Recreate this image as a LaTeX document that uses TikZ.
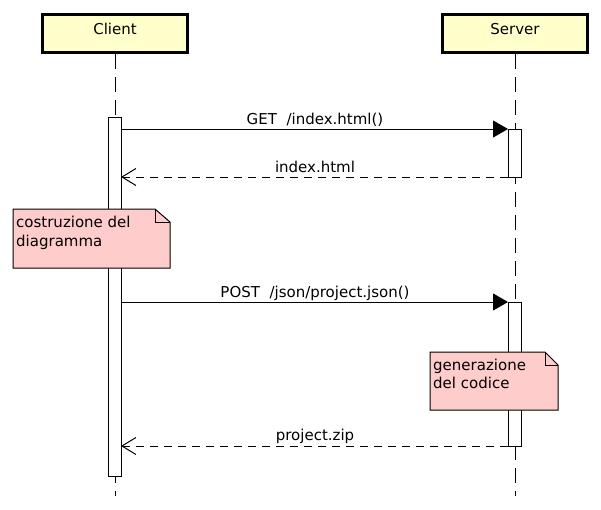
\documentclass[tikz,border=0pt]{standalone}
\usepackage{fontspec}
\setmainfont{DejaVu Sans}
\usetikzlibrary{arrows.meta,shapes.misc}
\definecolor{boxyellow}{HTML}{FFFFCC}
\definecolor{notepink}{HTML}{FFCCCC}
\tikzset{
  actor/.style={draw=black,line width=3pt,fill=boxyellow,minimum width=145pt,minimum height=38pt,inner sep=0pt,font=\fontsize{15}{18}\selectfont,text height=11pt,text depth=10pt},
  lifeline/.style={line width=1pt,dash pattern=on 15pt off 8pt},
  activation/.style={draw=black,line width=1pt,fill=white,inner sep=0pt},
  call/.style={line width=1pt,-{Triangle[length=15pt,width=17pt]}},
  reply/.style={line width=1pt,dash pattern=on 8pt off 6pt,-{Straight Barb[length=14pt,width=17pt,line width=1pt]}},
  msglabel/.style={font=\fontsize{15}{18}\selectfont,inner sep=0pt,anchor=base},
  notetext/.style={font=\fontsize{15}{19}\selectfont,inner sep=0pt,anchor=base west},
  notebox/.style={draw=black,line width=1pt,fill=notepink}
}
\begin{document}
\begin{tikzpicture}[x=1pt,y=-1pt]
\useasboundingbox (0,0) rectangle (601,509);
% actors
\node[actor] (client) at (115,33.5) {Client};
\node[actor] (server) at (515,33.5) {Server};
% lifelines
\coordinate (cend) at (115,496);
\coordinate (send) at (515,496);
\draw[lifeline] (client.south) -- (cend);
\draw[lifeline] (server.south) -- (send);
% activations
\node[activation,minimum width=12.5pt,minimum height=359pt] (cact) at (114.75,296.5) {};
\node[activation,minimum width=13pt,minimum height=48pt] (sact1) at (514.5,153) {};
\node[activation,minimum width=13pt,minimum height=144pt] (sact2) at (514.5,374) {};
% messages
\coordinate (m1s) at (121,129);
\coordinate (m1e) at (508,129);
\draw[call] (m1s) -- (m1e);
\node[msglabel] (l1) at (315,124) {GET\ \ /index.html()};
\coordinate (m2s) at (508,177);
\coordinate (m2e) at (121,177);
\draw[reply] (m2s) -- (m2e);
\node[msglabel] (l2) at (315,172) {index.html};
\coordinate (m3s) at (121,302);
\coordinate (m3e) at (508,302);
\draw[call] (m3s) -- (m3e);
\node[msglabel] (l3) at (315,297) {POST\ \ /json/project.json()};
\coordinate (m4s) at (508,446);
\coordinate (m4e) at (121,446);
\draw[reply] (m4s) -- (m4e);
\node[msglabel] (l4) at (315,440.5) {project.zip};
% note 1
\draw[notebox] (13,209) -- (155,209) -- (170,222) -- (170,268) -- (13,268) -- cycle;
\draw[line width=1pt] (155,209) -- (155,222) -- (170,222);
\node[notetext] (n1a) at (16,227) {costruzione del};
\node[notetext] (n1b) at (16,246) {diagramma};
% note 2
\draw[notebox] (430,352) -- (545,352) -- (558,365) -- (558,410) -- (430,410) -- cycle;
\draw[line width=1pt] (545,352) -- (545,365) -- (558,365);
\node[notetext] (n2a) at (433,370) {generazione};
\node[notetext] (n2b) at (433,388) {del codice};
\end{tikzpicture}
\end{document}
